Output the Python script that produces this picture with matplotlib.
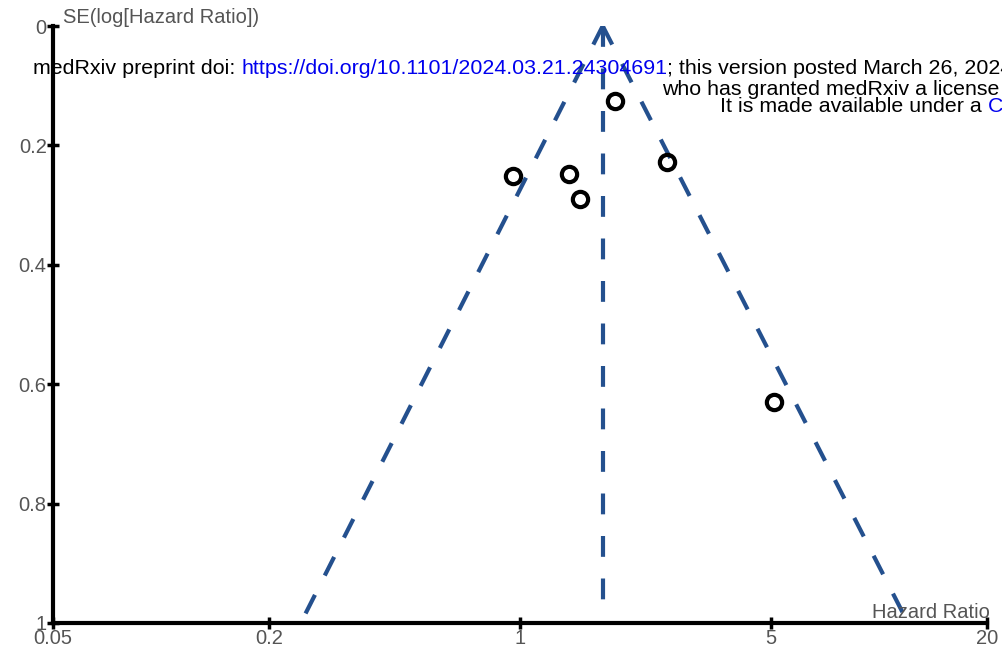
import matplotlib
matplotlib.use("Agg")
from matplotlib import pyplot as plt

# study estimates
hazard_ratio = [1.84, 0.956, 1.37, 1.47, 2.57, 5.10]
se_log_hr = [0.126, 0.251, 0.248, 0.290, 0.228, 0.630]

# pooled estimate and the 95% funnel edges (at SE = 0 and SE = 1)
pooled_hr = 1.70
funnel_se = [0.0, 1.0]
funnel_left = [1.70, 0.245]
funnel_right = [1.70, 12.05]

x_ticks = [0.05, 0.2, 1, 5, 20]
x_tick_labels = ["0.05", "0.2", "1", "5", "20"]
y_ticks = [0, 0.2, 0.4, 0.6, 0.8, 1]
y_tick_labels = ["0", "0.2", "0.4", "0.6", "0.8", "1"]

plt.rcParams["font.family"] = ["Liberation Sans", "DejaVu Sans"]

W, H = 1003, 660
fig = plt.figure(figsize=(W / 100, H / 100), dpi=100)
ax = fig.add_axes([53 / W, 37 / H, 934 / W, 597 / H])

line_color = "#24508e"
dash = (5.0, 5.2)
ax.plot(funnel_left, funnel_se, color=line_color, lw=3, dashes=dash)
ax.plot(funnel_right, funnel_se, color=line_color, lw=3, dashes=dash)
ax.plot([pooled_hr, pooled_hr], funnel_se, color=line_color, lw=3, dashes=dash)

ax.plot(hazard_ratio, se_log_hr, "o", ms=11, mfc="none", mec="black", mew=3, zorder=5)

ax.set_xscale("log")
ax.set_xlim(0.05, 20)
ax.set_ylim(1, 0)
ax.set_xticks(x_ticks)
ax.set_xticklabels(x_tick_labels)
ax.minorticks_off()
ax.set_yticks(y_ticks)
ax.set_yticklabels(y_tick_labels)

for s in ["top", "right"]:
    ax.spines[s].set_visible(False)
for s in ["left", "bottom"]:
    ax.spines[s].set_linewidth(3)
    ax.spines[s].set_color("black")
ax.tick_params(direction="inout", length=9, width=2.5, colors="black",
               labelcolor="#555555", labelsize=14.5, pad=0)

fig.text(63 / W, 1 - 23 / H, "SE(log[Hazard Ratio])",
         fontsize=14.5, color="#555555", ha="left", va="baseline")
fig.text(990 / W, 1 - 618 / H, "Hazard Ratio",
         fontsize=14.5, color="#555555", ha="right", va="baseline")

# preprint watermark lines across the top, placed piece by piece
fig.canvas.draw()
renderer = fig.canvas.get_renderer()


def put_line(x_px, y_px, parts):
    for txt, col in parts:
        t = fig.text(x_px / W, 1 - y_px / H, txt, fontsize=15.4,
                     va="baseline", ha="left", color=col)
        x_px += t.get_window_extent(renderer).width


put_line(33, 74, [("medRxiv preprint doi: ", "black"),
                  ("https://doi.org/10.1101/2024.03.21.24304691", "#0000ee"),
                  ("; this version posted March 26, 2024", "black")])
put_line(662, 95, [("who has granted medRxiv a license", "black")])
put_line(720, 112, [("It is made available under a ", "black"), ("CC", "#0000ee")])

fig.savefig("out.png", dpi=100)
